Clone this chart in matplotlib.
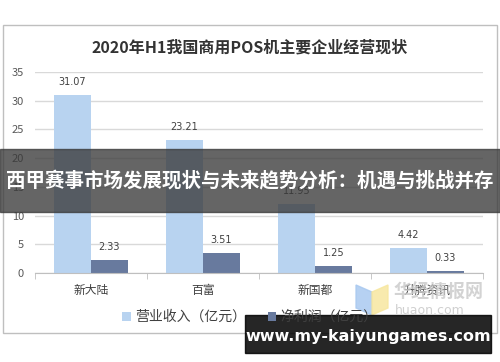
import numpy as np
import matplotlib
matplotlib.use("Agg")
import matplotlib.pyplot as plt
from matplotlib.patches import Rectangle, Polygon

plt.rcParams["font.family"] = ["Noto Sans CJK SC", "DejaVu Sans"]

# data
companies = ["新大陆", "百富", "新国都", "升腾资讯"]
revenue = [31.07, 23.21, 11.95, 4.42]
profit = [2.33, 3.51, 1.25, 0.33]
series_names = ["营业收入（亿元）", "净利润（亿元）"]
title = "2020年H1我国商用POS机主要企业经营现状"
banner = "西甲赛事市场发展现状与未来趋势分析：机遇与挑战并存"
url = "www.my-kaiyungames.com"

W, H = 500, 362
fig = plt.figure(figsize=(5, 3.62), dpi=100)
fig.patch.set_facecolor("white")


def px(x0, y0):
    # pixel (from top-left) -> figure fraction
    return (x0 / W, 1 - y0 / H)


# outer chart frame
fig.patches.append(Rectangle((3 / W, 29 / H), 494 / W, 308 / H,
                             transform=fig.transFigure, fill=False,
                             edgecolor="#bfbfbf", linewidth=1))

ax = fig.add_axes([0.07, 0.246, 0.896, 0.555])
x = np.arange(len(companies))
w = 0.33
b1 = ax.bar(x - w / 2, revenue, w, color="#b8d3f0", label=series_names[0], zorder=2)
b2 = ax.bar(x + w / 2, profit, w, color="#687a9e", label=series_names[1], zorder=2)

for bars, vals in ((b1, revenue), (b2, profit)):
    for r, v in zip(bars, vals):
        ax.text(r.get_x() + r.get_width() / 2, v + 1.4, f"{v:.2f}",
                ha="center", va="bottom", fontsize=7, color="#404040",
                family="DejaVu Sans")

ax.set_ylim(0, 35)
ax.set_xlim(-0.5, len(companies) - 0.5)
ax.set_yticks(range(0, 36, 5))
ax.yaxis.grid(True, color="#d9d9d9", linewidth=1, zorder=0)
ax.set_axisbelow(True)
for s in ("top", "right", "left"):
    ax.spines[s].set_visible(False)
ax.spines["bottom"].set_color("#bfbfbf")
ax.tick_params(axis="y", length=0, labelsize=8, labelcolor="#595959", pad=8)
ax.set_xticks(x)
ax.set_xticklabels(companies, fontsize=8.5, color="#404040")
ax.tick_params(axis="x", length=0, pad=8)
ax.set_xticks(np.arange(-0.5, len(companies)), minor=True)
ax.tick_params(axis="x", which="minor", length=4, color="#bfbfbf")

fig.text(0.5, 0.87, title, ha="center", va="center", fontsize=11.5,
         fontweight="bold", color="#333333")

fig.legend(loc="center", bbox_to_anchor=(0.5, 1 - 317 / H), ncol=2, frameon=False,
           fontsize=10, handlelength=0.6, handleheight=0.6, columnspacing=1.6,
           handletextpad=0.3, labelcolor="#404040")

# watermark logo + text
fig.patches.append(Polygon([px(356, 285), px(372, 292), px(372, 315), px(356, 308)],
                           closed=True, transform=fig.transFigure,
                           color="#a9c9f0", alpha=0.85))
fig.patches.append(Polygon([px(372, 292), px(388, 285), px(388, 308), px(372, 315)],
                           closed=True, transform=fig.transFigure,
                           color="#f7e7a0", alpha=0.85))
fig.text(393 / W, 1 - 292 / H, "华经情报网", fontsize=13, fontweight="bold",
         color="#c8c8c8", alpha=0.8, ha="left", va="center")
fig.text(395 / W, 1 - 311 / H, "huaon.com", fontsize=9, color="#d0d0d0",
         ha="left", va="center", family="DejaVu Sans")

# overlay banners
fig.patches.append(Rectangle((0, 150 / H), 1, 63 / H, transform=fig.transFigure,
                             color="#3a3a3a", alpha=0.78, zorder=5))
fig.text(0.5, 1 - 181 / H, banner, ha="center", va="center", fontsize=14,
         fontweight="bold", color="white", zorder=6)
fig.patches.append(Rectangle((245 / W, 9 / H), 246 / W, 38 / H,
                             transform=fig.transFigure, color="black", alpha=0.85,
                             zorder=5))
fig.text(368 / W, 1 - 336 / H, url, ha="center", va="center", fontsize=11.5,
         fontweight="bold", color="white", family="DejaVu Sans", zorder=6)

fig.savefig("out.png", dpi=100)
